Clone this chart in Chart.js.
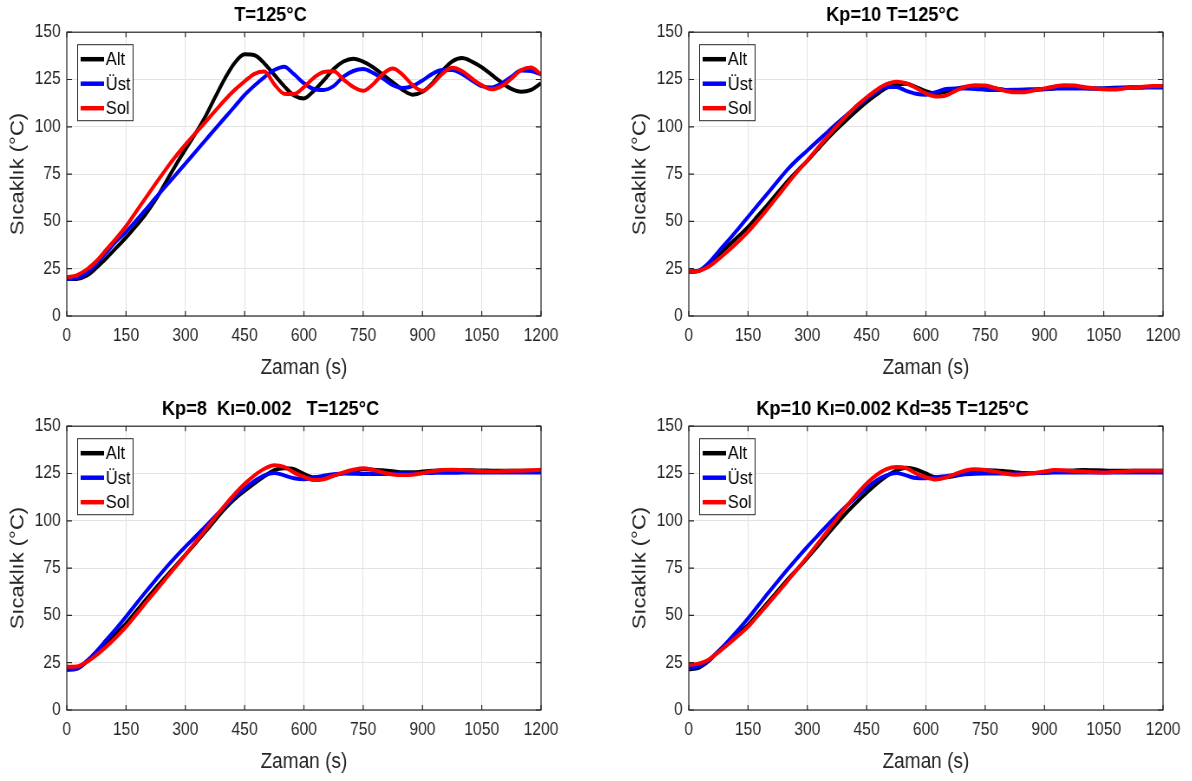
<!DOCTYPE html>
<html>
<head>
<meta charset="utf-8">
<script src="https://cdn.jsdelivr.net/npm/chart.js@4.4.1/dist/chart.umd.min.js"></script>
<style>
  body { margin: 0; background: #fff; width: 1192px; height: 781px; overflow: hidden; position: relative; }
  .panel { position: absolute; width: 657px; height: 387px; transform: scaleX(0.867); transform-origin: 0 0; }
</style>
</head>
<body>
<div class="panel" style="left:0;top:0"><canvas id="c1" width="657" height="387"></canvas></div>
<div class="panel" style="left:622px;top:0"><canvas id="c2" width="657" height="387"></canvas></div>
<div class="panel" style="left:0;top:394px"><canvas id="c3" width="657" height="387"></canvas></div>
<div class="panel" style="left:622px;top:394px"><canvas id="c4" width="657" height="387"></canvas></div>
<script>
// time axis (s), one sample every 25 s
const times = [0,25,50,75,100,125,150,175,200,225,250,275,300,325,350,375,400,425,450,475,500,525,550,575,600,
  625,650,675,700,725,750,775,800,825,850,875,900,925,950,975,1000,1025,1050,1075,1100,1125,1150,1175,1200];

const seriesNames = ['Alt', 'Üst', 'Sol'];
const seriesColors = ['#000000', '#0000ff', '#ff0000'];
const titles = ['T=125°C', 'Kp=10 T=125°C', 'Kp=8  Kı=0.002   T=125°C', 'Kp=10 Kı=0.002 Kd=35 T=125°C'];
const xTicks = [0,150,300,450,600,750,900,1050,1200];
const yTicks = [0,25,50,75,100,125,150];

// on-off control, T=125°C
const p1Alt = [19.5,19.6,21.3,25.5,30.5,36,41.5,47.5,54,61.5,70.5,79.5,88,96.3,105.2,115.5,125.5,133.8,138.3,137.8,133.5,127.5,121.5,116.5,115,
  119,124.5,130.5,134.5,136,134.5,131.5,127.5,123.5,119.5,117,118.5,123,129.5,134.5,136.3,134.5,131.5,127.5,123.5,120,118.5,119.5,123];
const p1Ust = [19.5,20,22.5,27.5,33.5,39.5,44.5,50.3,56.3,62.5,68.5,74.5,80.5,86.6,92.7,98.8,104.8,110.8,116.8,121.8,126.3,130,131.8,127.8,123,
  120,119.5,121.5,126.5,129.5,130.5,128.5,125.5,122,120.5,121.5,124.5,128,130,130,128,124.5,121.5,120.8,122.8,126.5,129.8,129.5,127.6];
const p1Sol = [20.5,21.5,24.5,29,35,41,47.5,55,62.5,70,77.3,84.2,90.5,96.5,102.3,108.3,114.2,119.5,124,128,129.2,122.5,117.5,117.3,121,
  125.9,129,129.3,125,121,119,122.5,128,130.8,127.5,122,119,122.5,128,131.2,129.5,125.5,122,119.8,121.5,125.5,130,131.3,127.6];

// Kp=10
const p2Alt = [23.4,23.8,27,32,37.2,42,47,53,59,65.2,71.3,76.8,82,87.8,93.5,98.8,103.8,108.5,113,117,120.5,122.3,122.8,121,118.8,
  117.5,118.5,120,121,121.3,121,120.2,119.5,119,119.2,119.5,119.8,120.3,121,120.8,120.5,120.2,120.3,120.6,120.8,120.9,121,121,121];
const p2Ust = [23.4,24,28,34,40,46,52.4,58.7,65,71.3,77.5,82.8,87.5,92.3,97,101.8,106.3,110.5,114.8,118.3,121,121,119,117.5,117,
  118.3,120,120.3,120.2,120,119.6,119.4,119.5,119.6,119.7,119.9,120,120.2,120.2,120.2,120.2,120.2,120.3,120.4,120.5,120.6,120.7,120.8,120.8];
const p2Sol = [23.4,23.8,26,30,34.5,39.3,44.5,50.5,56.8,63.3,70,76.3,82.3,88.5,94.6,100.5,106,111.2,115.6,119.5,122.5,123.8,123,120.5,117.6,
  116,116.5,119,121.2,122,121.8,120.5,119,118.2,118.3,119.3,120.3,121.3,122,121.8,121,120.3,119.8,119.7,120.2,120.8,121.2,121.5,121.6];

// Kp=8 Ki=0.002
const p3Alt = [22,22,25.5,30.5,35.5,40.5,45.8,52,58.3,64.4,70.3,76.1,82,88,94.1,100.3,106.3,111.5,115.8,119.8,123.5,126.8,127.8,127.3,124.8,
  123,123.3,124,125.2,126.2,127.2,127,126.7,126.2,125.6,125.6,126,126.4,126.6,126.8,126.8,126.7,126.6,126.5,126.4,126.4,126.4,126.4,126.4];
const p3Ust = [21.1,21.8,25.8,31,37,43,49.3,56,62.5,68.8,75,80.8,86.3,91.5,96.8,102.3,107.6,112.6,117,121,124,125.3,124,122.5,122,
  122.8,123.8,124.6,125,124.9,124.7,124.7,124.8,124.9,125,125.1,125.2,125.3,125.4,125.4,125.5,125.5,125.5,125.5,125.5,125.5,125.5,125.5,125.5];
const p3Sol = [22.9,23,25.3,29,33.5,38.5,44,50.3,56.7,63,69.3,75.6,81.9,88.5,95,101.7,108.2,114.2,119.5,124,127.5,129.4,128.5,125.5,123.3,
  121.5,122,123.8,125.6,127,127.8,126.9,125.5,124.5,124.2,124.4,125.2,126.2,126.8,127,126.8,126.5,126.2,126,126.2,126.4,126.5,126.7,127];

// Kp=10 Ki=0.002 Kd=35
const p4Alt = [21.5,22.3,25.8,31,36,40.5,44.9,50.8,56.8,62.9,69,74.6,80.3,86.4,92.6,98.7,104.5,109.8,114.8,119.5,123.5,126.5,128,127.2,125,
  123,123,123.8,125,126.2,126.7,126.6,126.2,125.7,125.2,125.1,125.4,125.9,126.3,126.6,126.8,126.7,126.6,126.4,126.4,126.4,126.4,126.4,126.4];
const p4Ust = [22,23,26.3,31,36.5,42.3,48.4,55,61.6,68,74.3,80.4,86.3,91.9,97.5,102.9,108,112.8,117.3,121.3,124,125.3,124,122.6,122.5,
  123,123.6,124.2,124.6,124.9,125,125,125,125,125.1,125.2,125.4,125.5,125.5,125.5,125.5,125.5,125.5,125.5,125.5,125.5,125.5,125.5,125.5];
const p4Sol = [23.8,24.5,26.6,30.5,34.8,39.3,44,49.9,55.9,62,68.3,74.6,81,87.6,94.3,101.1,107.9,114.1,119.7,124.2,127.3,128.5,127.9,125,123,
  121.8,122.8,124.8,126.6,127.3,126.9,126,125,124.4,124.6,125.3,126.1,126.8,126.7,126.3,126,125.7,125.5,125.8,126.1,126.4,126.4,126.4,126.4];

const FONT = "'Liberation Sans', Arial, Helvetica, sans-serif";
const AXIS = '#262626';

// axes box with inward tick marks on all four sides
const axesBox = {
  id: 'axesBox',
  afterDatasetsDraw(chart) {
    const { ctx, chartArea: a, scales } = chart;
    ctx.save();
    ctx.strokeStyle = AXIS;
    ctx.lineWidth = 1.2;
    ctx.strokeRect(a.left, a.top, a.right - a.left, a.bottom - a.top);
    ctx.beginPath();
    xTicks.forEach(v => {
      const x = scales.x.getPixelForValue(v);
      ctx.moveTo(x, a.bottom); ctx.lineTo(x, a.bottom - 5);
      ctx.moveTo(x, a.top); ctx.lineTo(x, a.top + 5);
    });
    yTicks.forEach(v => {
      const y = scales.y.getPixelForValue(v);
      ctx.moveTo(a.left, y); ctx.lineTo(a.left + 6, y);
      ctx.moveTo(a.right, y); ctx.lineTo(a.right - 6, y);
    });
    ctx.stroke();
    ctx.restore();
  }
};

// legend box drawn inside the upper-left corner of the plot
const insetLegend = {
  id: 'insetLegend',
  afterDraw(chart) {
    const { ctx, chartArea: a } = chart;
    const x0 = a.left + 12, y0 = a.top + 12, w = 64, h = 76;
    ctx.save();
    ctx.fillStyle = '#fff';
    ctx.fillRect(x0, y0, w, h);
    ctx.strokeStyle = AXIS;
    ctx.lineWidth = 1;
    ctx.strokeRect(x0 + 0.5, y0 + 0.5, w, h);
    ctx.font = '19px ' + FONT;
    ctx.textBaseline = 'middle';
    chart.data.datasets.forEach((ds, i) => {
      const y = y0 + 15 + i * 24.5;
      ctx.strokeStyle = ds.borderColor;
      ctx.lineWidth = 4.5;
      ctx.beginPath();
      ctx.moveTo(x0 + 4, y); ctx.lineTo(x0 + 31, y);
      ctx.stroke();
      ctx.fillStyle = '#000';
      ctx.fillText(ds.label, x0 + 33, y + 1);
    });
    ctx.restore();
  }
};

function makeChart(id, title, series) {
  const ctx = document.getElementById(id).getContext('2d');
  return new Chart(ctx, {
    type: 'line',
    data: {
      datasets: series.map((vals, i) => ({
        label: seriesNames[i],
        data: times.map((t, k) => ({ x: t, y: vals[k] })),
        borderColor: seriesColors[i],
        borderWidth: 4,
        pointRadius: 0,
        cubicInterpolationMode: 'monotone',
        fill: false,
        order: 3 - i
      }))
    },
    options: {
      responsive: false,
      animation: false,
      layout: { padding: { left: 0, right: 33, top: 0, bottom: 0 } },
      plugins: {
        legend: { display: false },
        tooltip: { enabled: false },
        title: {
          display: true,
          text: title,
          color: '#000',
          font: { family: FONT, size: 21, weight: 'bold' },
          padding: { top: 3, bottom: 4 }
        }
      },
      scales: {
        x: {
          type: 'linear',
          min: 0, max: 1200,
          afterBuildTicks: s => { s.ticks = xTicks.map(v => ({ value: v })); },
          afterFit: s => { s.height = 71; },
          ticks: { color: AXIS, font: { family: FONT, size: 18 }, padding: 9, maxRotation: 0, autoSkip: false,
                   callback: v => String(v) },
          grid: { color: '#e3e3e3', drawTicks: false },
          border: { display: false },
          title: { display: true, text: 'Zaman (s)', color: AXIS, font: { family: FONT, size: 22 }, padding: { top: 0, bottom: 6 } }
        },
        y: {
          min: 0, max: 150,
          afterBuildTicks: s => { s.ticks = yTicks.map(v => ({ value: v })); },
          afterFit: s => { s.width = 77; },
          ticks: { color: AXIS, font: { family: FONT, size: 18 }, padding: 7, callback: v => String(v) },
          grid: { color: '#e3e3e3', drawTicks: false },
          border: { display: false },
          title: { display: true, text: 'Sıcaklık (°C)', color: AXIS, font: { family: FONT, size: 22 }, padding: { top: 8, bottom: 0 } }
        }
      }
    },
    plugins: [axesBox, insetLegend]
  });
}

makeChart('c1', titles[0], [p1Alt, p1Ust, p1Sol]);
makeChart('c2', titles[1], [p2Alt, p2Ust, p2Sol]);
makeChart('c3', titles[2], [p3Alt, p3Ust, p3Sol]);
makeChart('c4', titles[3], [p4Alt, p4Ust, p4Sol]);
</script>
</body>
</html>
